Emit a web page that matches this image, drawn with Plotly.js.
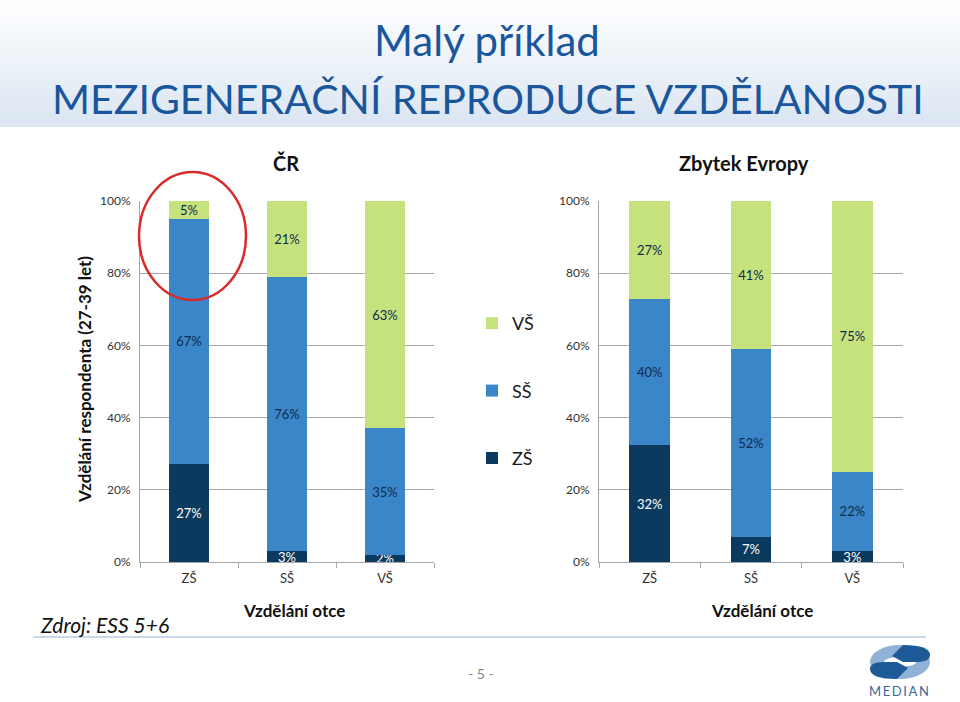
<!DOCTYPE html>
<html><head><meta charset="utf-8">
<script src="https://cdn.plot.ly/plotly-3.0.1.min.js"></script>
<style>
html,body{margin:0;padding:0;background:#fff;}
#wrap{position:relative;width:960px;height:702px;background:linear-gradient(to bottom,#ffffff 0px,#dae5f2 127px,#ffffff 127px,#ffffff 702px);}
#chart{width:960px;height:702px;}
</style></head><body><div id="wrap"><div id="chart"></div></div>
<script>
// ---- data ----
const categories = ['ZŠ', 'SŠ', 'VŠ'];
const seriesNames = ['ZŠ', 'SŠ', 'VŠ'];
// ČR
const crZS = [27, 3, 2];
const crSS = [67, 76, 35];
const crVS = [5, 21, 63];
// Zbytek Evropy
const euZS = [32, 7, 3];
const euSS = [40, 52, 22];
const euVS = [27, 41, 75];
const yTickVals = [0, 20, 40, 60, 80, 100];
const yTickText = ['0%', '20%', '40%', '60%', '80%', '100%'];

const colors = {'ZŠ': '#0c3a5e', 'SŠ': '#3a86c8', 'VŠ': '#c6e27d'};
const textColors = {'ZŠ': '#ffffff', 'SŠ': '#0f2b4c', 'VŠ': '#0f2b4c'};
const legendRanks = {'ZŠ': 3, 'SŠ': 2, 'VŠ': 1};
const FONT = 'Lato, "Open Sans", sans-serif';

function mkTrace(name, vals, xa, ya, showlegend) {
  return {
    type: 'bar', name: name, x: categories, y: vals,
    xaxis: xa, yaxis: ya, legendgroup: name, legendrank: legendRanks[name], showlegend: showlegend,
    marker: {color: colors[name], line: {width: 0}},
    text: vals.map(v => v + '%'), texttemplate: '%{text}',
    textposition: 'inside', insidetextanchor: 'middle', textangle: 0,
    textfont: {family: FONT, size: 13, color: textColors[name]},
    hovertemplate: name + ': %{text}<extra></extra>'
  };
}

const data = [
  mkTrace(seriesNames[0], crZS, 'x', 'y', true),
  mkTrace(seriesNames[1], crSS, 'x', 'y', true),
  mkTrace(seriesNames[2], crVS, 'x', 'y', true),
  mkTrace(seriesNames[0], euZS, 'x2', 'y2', false),
  mkTrace(seriesNames[1], euSS, 'x2', 'y2', false),
  mkTrace(seriesNames[2], euVS, 'x2', 'y2', false)
];

const W = 960, H = 702;
const px = v => v / W, py = v => 1 - v / H;

function xAxis(domain, anchor) {
  return {domain: domain, anchor: anchor, type: 'category', showline: true, linecolor: '#a6a6a6', linewidth: 1,
    ticks: 'outside', tickson: 'boundaries', ticklen: 5, tickcolor: '#a6a6a6', ticklabelstandoff: 4,
    tickfont: {family: FONT, size: 13, color: '#333'}, showgrid: false, fixedrange: true};
}
function yAxis(domain, anchor) {
  return {domain: domain, anchor: anchor, range: [0, 100], tickvals: yTickVals, ticktext: yTickText,
    showline: true, linecolor: '#a6a6a6', showgrid: true, gridcolor: '#a6a6a6', gridwidth: 1, zeroline: false,
    ticks: '', ticklabelstandoff: 6, tickfont: {family: FONT, size: 12, color: '#333'}, fixedrange: true};
}

function ann(text, x, y, size, color, extra) {
  return Object.assign({text: text, x: px(x), y: py(y), xref: 'paper', yref: 'paper', showarrow: false,
    xanchor: 'center', yanchor: 'middle', font: {family: FONT, size: size, color: color}}, extra || {});
}

const layout = {
  width: W, height: H, margin: {l: 0, r: 0, t: 0, b: 0},
  paper_bgcolor: 'rgba(0,0,0,0)', plot_bgcolor: 'rgba(0,0,0,0)',
  font: {family: FONT, color: '#333'},
  barmode: 'stack', barnorm: 'percent', bargap: 0.6,
  uniformtext: {mode: 'show', minsize: 13},
  showlegend: true,
  legend: {x: px(472), y: py(305), xanchor: 'left', yanchor: 'top', traceorder: 'grouped',
    tracegroupgap: 41, font: {family: FONT, size: 18, color: '#1a1a1a'}, bgcolor: 'rgba(0,0,0,0)'},
  xaxis: xAxis([px(140), px(434)], 'y'),
  yaxis: yAxis([py(562), py(201)], 'x'),
  xaxis2: xAxis([px(599), px(903)], 'y2'),
  yaxis2: yAxis([py(562), py(201)], 'x2'),
  annotations: [
    ann('Malý příklad', 487, 40, 42, '#1a569c'),
    ann('MEZIGENERAČNÍ REPRODUCE VZDĚLANOSTI', 488, 98, 41, '#1a569c'),
    ann('<b>ČR</b>', 286, 163, 20, '#111'),
    ann('<b>Zbytek Evropy</b>', 744, 163, 20, '#111'),
    ann('<b>Vzdělání respondenta (27-39 let)</b>', 84, 380, 17, '#111', {textangle: -90}),
    ann('<b>Vzdělání otce</b>', 294, 610, 17, '#111'),
    ann('<b>Vzdělání otce</b>', 762, 610, 17, '#111'),
    ann('<i>Zdroj: ESS 5+6</i>', 38, 624, 21, '#111', {xanchor: 'left'}),
    ann('- 5 -', 481, 673, 14, '#8a8a8a'),
    ann('M\u2009E\u2009D\u2009I\u2009A\u2009N', 899, 691, 13, '#3a6a9a')
  ],
  shapes: [
    {type: 'circle', xref: 'paper', yref: 'paper', x0: px(139), x1: px(246), y0: py(300), y1: py(172),
      line: {color: '#d92b2b', width: 2.5}, fillcolor: 'rgba(0,0,0,0)'},
    {type: 'line', xref: 'paper', yref: 'paper', x0: px(33), x1: px(926), y0: py(637), y1: py(637),
      line: {color: '#b9cde2', width: 1.5}},
    // logo
    {type: 'circle', xref: 'paper', yref: 'paper', x0: px(870), x1: px(930), y0: py(679), y1: py(645),
      line: {width: 0}, fillcolor: '#8fb2d6'},
    {type: 'circle', xref: 'paper', yref: 'paper', x0: px(884), x1: px(916), y0: py(667), y1: py(657),
      line: {width: 0}, fillcolor: '#ffffff'}
  ]
};

function pathFromPx(cmds) {
  return cmds.map(c => {
    if (typeof c === 'string') return c;
    return px(c[0]).toFixed(5) + ',' + py(c[1]).toFixed(5);
  }).join(' ');
}
layout.shapes.push({type: 'path', xref: 'paper', yref: 'paper', line: {width: 0}, fillcolor: '#1d5a97',
  path: pathFromPx(['M', [892, 656], 'L', [903, 645], 'Q', [930, 645], [930, 655], 'Q', [930, 662], [916, 662], 'L', [903, 662], 'Z'])});
layout.shapes.push({type: 'path', xref: 'paper', yref: 'paper', line: {width: 0}, fillcolor: '#1d5a97',
  path: pathFromPx(['M', [908, 668], 'L', [897, 679], 'Q', [870, 679], [870, 669], 'Q', [870, 662], [884, 662], 'L', [897, 662], 'Z'])});

Plotly.newPlot('chart', data, layout, {staticPlot: true, displayModeBar: false});
</script>
</body></html>
